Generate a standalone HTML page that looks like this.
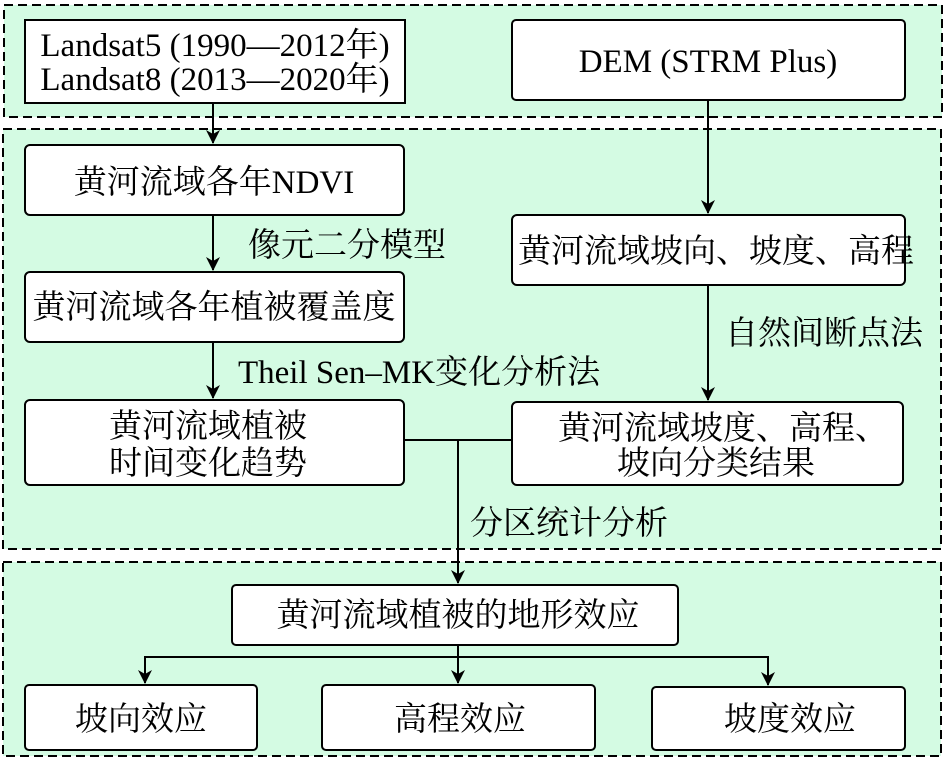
<!DOCTYPE html>
<html><head><meta charset="utf-8"><style>
body{margin:0;background:#fff}
svg text{font-family:"Liberation Serif","Noto Serif CJK SC",serif;font-size:33px;fill:#000}
</style></head><body>
<svg width="947" height="759" xmlns="http://www.w3.org/2000/svg">
<defs>
<marker id="b" markerWidth="14" markerHeight="14" refX="7" refY="13" orient="0" markerUnits="userSpaceOnUse"><path d="M0,0 L7,4 L14,0 L7,14 Z" fill="#000"/></marker></defs>
<g fill="#d4fbe3" stroke="#000" stroke-width="2" stroke-dasharray="9,5">
<rect x="4" y="5" width="938" height="112"/>
<rect x="3" y="129" width="938" height="420"/>
<rect x="3" y="562" width="938" height="194"/>
</g>
<g fill="#fff" stroke="#000" stroke-width="2">
<rect x="25" y="20" width="380" height="83"/>
<rect x="512" y="20" width="393" height="80" rx="4"/>
<rect x="25" y="145" width="379" height="70" rx="5"/>
<rect x="25" y="272" width="379" height="70" rx="5"/>
<rect x="25" y="400" width="379" height="85" rx="5"/>
<rect x="512" y="215" width="393" height="70" rx="5"/>
<rect x="512" y="402" width="391" height="83" rx="5"/>
<rect x="232" y="585" width="446" height="60" rx="4"/>
<rect x="25" y="685" width="232" height="65" rx="4"/>
<rect x="322" y="685" width="273" height="65" rx="4"/>
<rect x="652" y="687" width="253" height="63" rx="4"/>
</g>
<g stroke="#000" stroke-width="2" fill="none">
<line x1="213" y1="103" x2="213" y2="143" marker-end="url(#b)"/>
<line x1="708" y1="100" x2="708" y2="213" marker-end="url(#b)"/>
<line x1="213" y1="215" x2="213" y2="270" marker-end="url(#b)"/>
<line x1="213" y1="342" x2="213" y2="398" marker-end="url(#b)"/>
<line x1="708" y1="285" x2="708" y2="400" marker-end="url(#b)"/>
<polyline points="404,440 512,440"/>
<line x1="458" y1="440" x2="458" y2="583" marker-end="url(#b)"/>
<line x1="458" y1="645" x2="458" y2="683" marker-end="url(#b)"/>
<polyline points="145,683 145,657 768,657 768,683"/>
<line x1="145" y1="660" x2="145" y2="683" marker-end="url(#b)"/>
<line x1="768" y1="660" x2="768" y2="685" marker-end="url(#b)"/>
</g>
<text x="215" y="56" text-anchor="middle">Landsat5 (1990—2012年)</text>
<text x="215" y="90" text-anchor="middle">Landsat8 (2013—2020年)</text>
<text x="708" y="72" text-anchor="middle">DEM (STRM Plus)</text>
<text x="214" y="193" text-anchor="middle">黄河流域各年NDVI</text>
<text x="248" y="256">像元二分模型</text>
<text x="214" y="318" text-anchor="middle">黄河流域各年植被覆盖度</text>
<text x="238" y="383">Theil Sen–MK变化分析法</text>
<text x="208" y="437" text-anchor="middle">黄河流域植被</text>
<text x="208" y="474" text-anchor="middle">时间变化趋势</text>
<text x="716" y="262" text-anchor="middle">黄河流域坡向、坡度、高程</text>
<text x="725" y="344">自然间断点法</text>
<text x="723" y="439" text-anchor="middle">黄河流域坡度、高程、</text>
<text x="716" y="474" text-anchor="middle">坡向分类结果</text>
<text x="470" y="534">分区统计分析</text>
<text x="458" y="626" text-anchor="middle">黄河流域植被的地形效应</text>
<text x="141" y="730" text-anchor="middle">坡向效应</text>
<text x="460" y="730" text-anchor="middle">高程效应</text>
<text x="790" y="730" text-anchor="middle">坡度效应</text>
</svg>
</body></html>
